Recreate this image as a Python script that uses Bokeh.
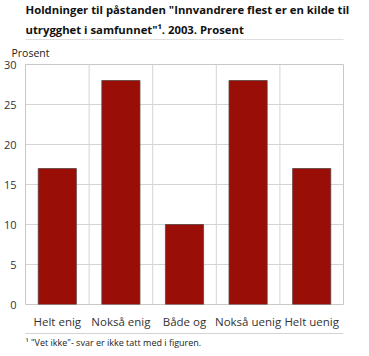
from bokeh.plotting import figure
from bokeh.models import Span, FixedTicker, ColumnDataSource, Title
from bokeh.layouts import column
from bokeh.embed import file_html
from bokeh.resources import INLINE

categories = ["Helt enig", "Nokså enig", "Både og", "Nokså uenig", "Helt uenig"]
values = [17, 28, 10, 28, 17]
y_ticks = [0, 5, 10, 15, 20, 25, 30]
title_lines = ['Holdninger til påstanden "Innvandrere flest er en kilde til',
               'utrygghet i samfunnet"¹. 2003. Prosent']
unit_label = "Prosent"
footnote = '¹  "Vet ikke"- svar er ikke tatt med i figuren.'

W = 351
FONT = "Open Sans"
RULE = "#a8a8a8"


def blank(fig):
    fig.xaxis.visible = False
    fig.yaxis.visible = False
    fig.xgrid.visible = False
    fig.ygrid.visible = False
    fig.outline_line_color = None
    fig.background_fill_color = RULE
    fig.border_fill_color = "white"


# --- header: two title lines and a rule below them
top = figure(width=W, height=39, output_backend="svg", toolbar_location=None,
             min_border_left=0, min_border_right=0, min_border_top=38, min_border_bottom=0,
             x_range=(0, 1), y_range=(0, 1))
blank(top)
top.add_layout(Title(text=title_lines[1], text_font=FONT, text_font_style="bold",
                     text_font_size="11.3px", text_color="#111111", align="left",
                     standoff=6, offset=0), "above")
top.add_layout(Title(text=title_lines[0], text_font=FONT, text_font_style="bold",
                     text_font_size="11.3px", text_color="#111111", align="left",
                     standoff=0, offset=0), "above")

# --- chart
p = figure(x_range=categories, y_range=(0, 30), width=W, height=294,
           output_backend="svg", toolbar_location=None,
           min_border_left=14, min_border_right=8, min_border_top=25, min_border_bottom=29)
p.outline_line_color = "#c8c8c8"
p.border_fill_color = "white"
p.add_layout(Title(text=unit_label, text_font=FONT, text_font_style="normal",
                   text_font_size="10.5px", text_color="#222222", align="left",
                   offset=-14, standoff=9), "above")

src = ColumnDataSource(dict(cat=categories, val=values))
p.vbar(x="cat", top="val", width=0.6, source=src, fill_color="#990f07",
       line_color="#5a4040", line_width=0.8)

p.yaxis.ticker = FixedTicker(ticks=y_ticks)
p.yaxis.axis_line_color = None
p.yaxis.major_tick_line_color = None
p.yaxis.minor_tick_line_color = None
p.yaxis.major_label_text_font = FONT
p.yaxis.major_label_text_font_size = "11px"
p.yaxis.major_label_text_color = "#333333"
p.yaxis.major_label_standoff = 3

p.xaxis.axis_line_color = None
p.xaxis.major_tick_line_color = None
p.xaxis.major_label_text_font = FONT
p.xaxis.major_label_text_font_size = "11.5px"
p.xaxis.major_label_text_color = "#333333"
p.xaxis.major_label_standoff = 3

p.ygrid.grid_line_color = "#d4d4d4"
p.xgrid.grid_line_color = None
for i in range(1, len(categories)):
    p.add_layout(Span(location=i, dimension="height", line_color="#d4d4d4", line_width=1))

# --- footer: rule and footnote
bot = figure(width=W, height=13, output_backend="svg", toolbar_location=None,
             min_border_left=0, min_border_right=0, min_border_top=0, min_border_bottom=12,
             x_range=(0, 1), y_range=(0, 1))
blank(bot)
bot.add_layout(Title(text=footnote, text_font=FONT, text_font_size="9px",
                     text_font_style="normal", text_color="#222222", align="left",
                     standoff=0, offset=0), "below")

layout = column(top, p, bot, spacing=0)
html = file_html(layout, INLINE)
open("out.html", "w").write(html)
